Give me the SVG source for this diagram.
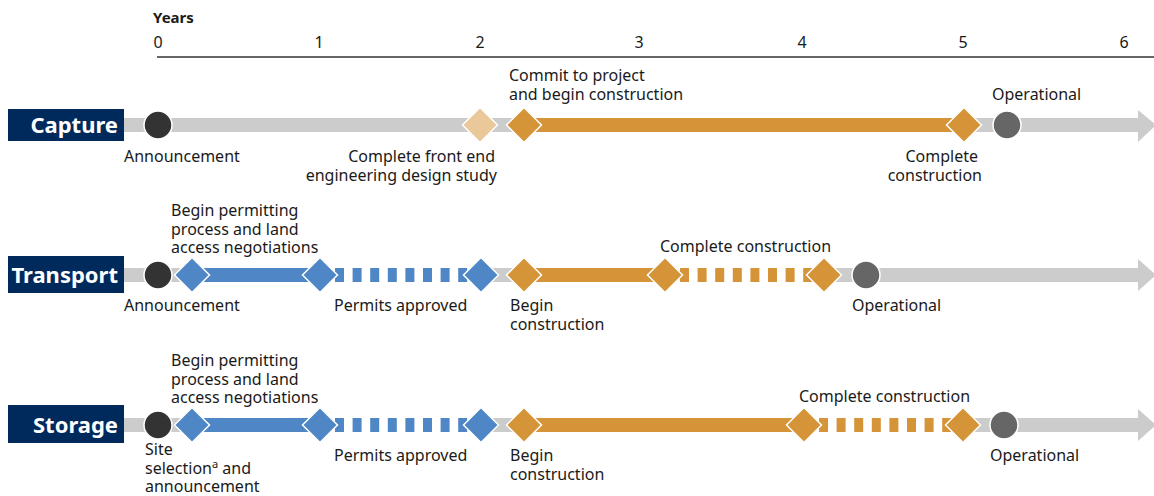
<svg xmlns="http://www.w3.org/2000/svg" width="1154" height="496" viewBox="0 0 1154 496">
<style>
.t{font-family:"Noto Sans","Open Sans",sans-serif;font-size:16px;fill:#1a1a1a}
.yr{font-family:"Noto Sans","Open Sans",sans-serif;font-size:16px;fill:#1a1a1a;text-anchor:middle}
.lbl{font-family:"Noto Sans","Open Sans",sans-serif;font-size:22px;font-weight:bold;fill:#fff;text-anchor:end}
.box{fill:#012a5c}
.bar{fill:#cccccc}
.dk{fill:#333333;stroke:#fff;stroke-width:1.5}
.op{fill:#666666;stroke:#fff;stroke-width:1.5}
.bd{fill:#4f86c6;stroke:#fff;stroke-width:1.5}
.od{fill:#d59437;stroke:#fff;stroke-width:1.5}
.ld{fill:#eac89a;stroke:#fff;stroke-width:1.5}
.bs{stroke:#4f86c6;stroke-width:14}
.os{stroke:#d59437;stroke-width:14}
.ws{stroke:#ffffff;stroke-width:14}
.dash{stroke-dasharray:9 8.6}
</style>
<defs>
<polygon id="dia" points="0,-17.5 17.5,0 0,17.5 -17.5,0"/>
</defs>

<g id="axis">
<text x="153" y="23" class="t" style="font-weight:bold;font-size:15px">Years</text>
<line x1="157" y1="57" x2="1154" y2="57" stroke="#333" stroke-width="1.5"/>
<text x="158" y="48" class="yr">0</text>
<text x="319" y="48" class="yr">1</text>
<text x="480" y="48" class="yr">2</text>
<text x="639" y="48" class="yr">3</text>
<text x="802" y="48" class="yr">4</text>
<text x="963" y="48" class="yr">5</text>
<text x="1124" y="48" class="yr">6</text>
</g>

<g id="connectors">
<rect class="bar" x="124" y="118" width="1016" height="14"/>
<polygon class="bar" points="1138,110 1156,125 1138,142"/>
<rect class="bar" x="124" y="268" width="1016" height="14"/>
<polygon class="bar" points="1138,259 1156,275 1138,291"/>
<rect class="bar" x="124" y="418" width="1016" height="14"/>
<polygon class="bar" points="1138,409 1156,425 1138,441"/>
<line class="os" x1="524" y1="125" x2="964" y2="125"/>
<line class="bs" x1="192" y1="275" x2="320" y2="275"/>
<line class="ws" x1="320" y1="275" x2="481" y2="275"/>
<line class="bs dash" x1="335" y1="275" x2="481" y2="275"/>
<line class="os" x1="524" y1="275" x2="665" y2="275"/>
<line class="ws" x1="665" y1="275" x2="824" y2="275"/>
<line class="os dash" x1="680" y1="275" x2="824" y2="275"/>
<line class="bs" x1="192" y1="425" x2="320" y2="425"/>
<line class="ws" x1="320" y1="425" x2="481" y2="425"/>
<line class="bs dash" x1="335" y1="425" x2="481" y2="425"/>
<line class="os" x1="524" y1="425" x2="804" y2="425"/>
<line class="ws" x1="804" y1="425" x2="963" y2="425"/>
<line class="os dash" x1="819" y1="425" x2="963" y2="425"/>
</g>

<g id="capture">
<rect class="box" x="8" y="109" width="116" height="32"/>
<text x="118" y="133" class="lbl">Capture</text>
<circle class="dk" cx="158" cy="125" r="14"/>
<use href="#dia" class="ld" x="480" y="125"/>
<use href="#dia" class="od" x="524" y="125"/>
<use href="#dia" class="od" x="964" y="125"/>
<circle class="op" cx="1007" cy="125" r="14"/>
<text x="124" y="162" class="t">Announcement</text>
<text class="t" text-anchor="end"><tspan x="495" y="162">Complete front end</tspan><tspan x="497" y="181">engineering design study</tspan></text>
<text class="t"><tspan x="509" y="81">Commit to project</tspan><tspan x="509" y="100">and begin construction</tspan></text>
<text class="t" text-anchor="end"><tspan x="978" y="162">Complete</tspan><tspan x="982" y="181">construction</tspan></text>
<text x="992" y="100" class="t">Operational</text>
</g>

<g id="transport">
<rect class="box" x="8" y="256" width="116" height="37"/>
<text x="118" y="283" class="lbl">Transport</text>
<circle class="dk" cx="158" cy="275" r="14"/>
<use href="#dia" class="bd" x="192" y="275"/>
<use href="#dia" class="bd" x="320" y="275"/>
<use href="#dia" class="bd" x="481" y="275"/>
<use href="#dia" class="od" x="524" y="275"/>
<use href="#dia" class="od" x="665" y="275"/>
<use href="#dia" class="od" x="824" y="275"/>
<circle class="op" cx="866" cy="275" r="14"/>
<text class="t"><tspan x="171" y="216">Begin permitting</tspan><tspan x="171" y="234.5">process and land</tspan><tspan x="171" y="253">access negotiations</tspan></text>
<text x="124" y="311" class="t">Announcement</text>
<text x="334" y="311" class="t">Permits approved</text>
<text class="t"><tspan x="510" y="311">Begin</tspan><tspan x="510" y="330">construction</tspan></text>
<text x="660" y="252" class="t">Complete construction</text>
<text x="852" y="311" class="t">Operational</text>
</g>

<g id="storage">
<rect class="box" x="8" y="405" width="116" height="38"/>
<text x="118" y="433" class="lbl">Storage</text>
<circle class="dk" cx="158" cy="425" r="14"/>
<use href="#dia" class="bd" x="192" y="425"/>
<use href="#dia" class="bd" x="320" y="425"/>
<use href="#dia" class="bd" x="481" y="425"/>
<use href="#dia" class="od" x="524" y="425"/>
<use href="#dia" class="od" x="804" y="425"/>
<use href="#dia" class="od" x="963" y="425"/>
<circle class="op" cx="1004" cy="425" r="14"/>
<text class="t"><tspan x="171" y="366">Begin permitting</tspan><tspan x="171" y="384.5">process and land</tspan><tspan x="171" y="403">access negotiations</tspan></text>
<text class="t"><tspan x="145" y="455">Site</tspan><tspan x="145" y="473.5">selection</tspan><tspan font-size="11" dy="-6">a</tspan><tspan dy="6"> and</tspan><tspan x="145" y="492">announcement</tspan></text>
<text x="334" y="461" class="t">Permits approved</text>
<text class="t"><tspan x="510" y="461">Begin</tspan><tspan x="510" y="480">construction</tspan></text>
<text x="799" y="402" class="t">Complete construction</text>
<text x="990" y="461" class="t">Operational</text>
</g>
</svg>
